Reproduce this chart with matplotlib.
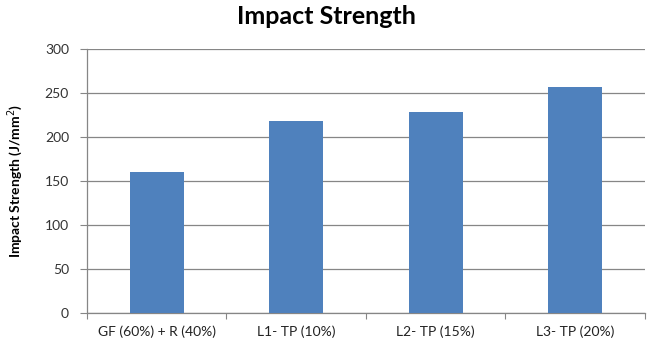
import matplotlib
matplotlib.use("Agg")
import matplotlib.pyplot as plt

categories = ["GF (60%) + R (40%)", "L1- TP (10%)", "L2- TP (15%)", "L3- TP (20%)"]
values = [160, 218, 228, 257]
yticks = [0, 50, 100, 150, 200, 250, 300]

plt.rcParams["font.family"] = ["Lato", "DejaVu Sans"]

fig = plt.figure(figsize=(6.53, 3.47), dpi=100)
ax = fig.add_axes([0.1332, 0.098, 0.8545, 0.7608])

x = range(len(categories))
ax.bar(x, values, width=0.39, color="#4F81BD", zorder=3)

ax.set_xlim(-0.5, len(categories) - 0.5)
ax.set_ylim(0, 300)
ax.set_yticks(yticks)
ax.set_xticks(list(x))
ax.set_xticklabels(categories, fontsize=10, color="#222222")
ax.tick_params(axis="x", length=0, pad=9)
ax.tick_params(axis="y", labelsize=10, colors="#333333", length=5, color="#868686", width=0.8, pad=8)

# category separator ticks on the x axis
ax.set_xticks([i - 0.5 for i in range(len(categories) + 1)], minor=True)
ax.tick_params(axis="x", which="minor", length=4, color="#868686", width=0.8)

ax.yaxis.grid(True, color="#868686", linewidth=0.9, zorder=0)
for side in ("top", "right"):
    ax.spines[side].set_visible(False)
for side in ("left", "bottom"):
    ax.spines[side].set_color("#868686")
    ax.spines[side].set_linewidth(0.9)

ax.set_ylabel("Impact Strength (J/mm$^2$)", fontsize=10, fontweight="bold", labelpad=14)
fig.suptitle("Impact Strength", fontsize=18, fontweight="bold", y=0.985, x=0.5)

fig.savefig("out.png", dpi=100)
